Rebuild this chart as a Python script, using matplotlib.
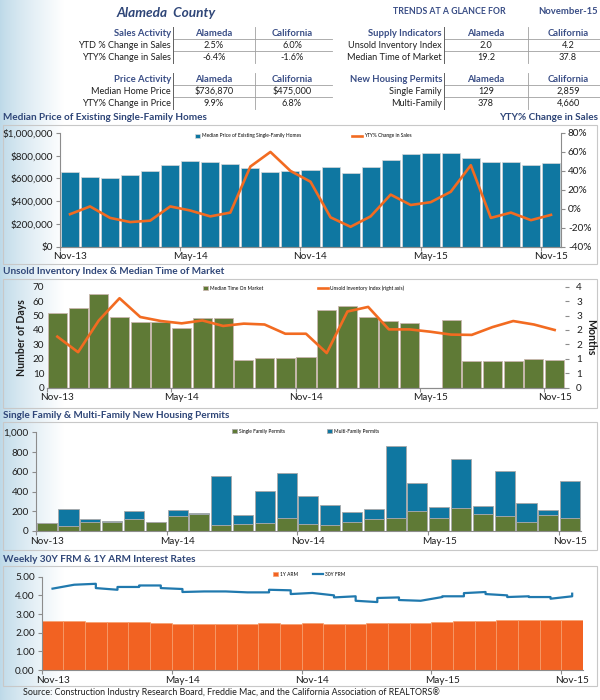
import numpy as np
import matplotlib
matplotlib.use("Agg")
import matplotlib.pyplot as plt
from matplotlib.patches import Rectangle
from matplotlib.ticker import FuncFormatter, MultipleLocator

plt.rcParams['font.family'] = ['Lato', 'DejaVu Sans']

# ---------------- data ----------------
tick_labels = ["Nov-13", "May-14", "Nov-14", "May-15", "Nov-15"]

median_price = [657000, 609000, 600000, 630000, 663000, 722000, 752000, 746000, 725000,
                696000, 654000, 663000, 675000, 698000, 645000, 701000, 761000, 815000,
                821000, 821000, 776000, 746000, 743000, 716000, 736870]
yty_sales = [-5.7, 2.5, -9.6, -14.0, -12.5, 2.5, -1.8, -8.0, -4.0, 44.6, 60.0, 40.0,
             28.6, -9.0, -19.0, -8.0, 15.0, 4.0, 7.0, 18.0, 46.0, -9.6, -4.0, -12.0, -6.4]

days_on_market = [51.5, 55.0, 64.7, 48.7, 45.7, 45.7, 41.1, 48.0, 48.5, 19.2, 20.3, 20.8,
                  21.2, 54.0, 56.4, 49.0, 46.0, 44.6, np.nan, 46.6, 18.2, 18.2, 18.5, 19.9, 19.2]
unsold_index = [1.77, 1.23, 2.33, 3.10, 2.45, 2.31, 2.23, 2.33, 2.14, 2.22, 2.19, 1.87,
                1.87, 1.20, 2.64, 2.80, 2.02, 2.02, 1.94, 1.84, 1.83, 2.10, 2.31, 2.19, 2.00]

single_family = [78, 51, 91, 91, 122, 88, 155, 172, 61, 68, 78, 128,
                 71, 61, 88, 122, 128, 206, 128, 230, 172, 155, 95, 159, 129]
multi_family = [0, 175, 34, 10, 77, 0, 54, 7, 500, 94, 324, 456,
                284, 203, 101, 104, 737, 277, 112, 496, 81, 450, 185, 57, 378]

arm_1y = [2.64, 2.63, 2.59, 2.59, 2.55, 2.50, 2.48, 2.45, 2.45, 2.45, 2.50, 2.46,
          2.50, 2.45, 2.45, 2.50, 2.52, 2.54, 2.55, 2.63, 2.61, 2.66, 2.68, 2.66, 2.70]
frm_30y = [[4.36], [4.57], [4.62, 4.39], [4.30, 4.45], [4.45, 4.53], [4.53, 4.39],
           [4.34, 4.18], [4.21], [4.21], [4.16], [4.16, 4.30], [4.27, 4.07],
           [4.13], [4.00, 3.89], [3.95, 3.71], [3.64, 3.86], [3.89, 3.75], [3.71],
           [3.91, 3.95], [3.95, 4.12], [4.18, 4.07], [4.00, 3.91], [3.95, 3.91],
           [3.91, 3.82], [3.95, 4.09]]

sales_rows = ["YTD % Change in Sales", "YTY% Change in Sales"]
sales_alameda = ["2.5%", "-6.4%"]
sales_california = ["6.0%", "-1.6%"]
price_rows = ["Median Home Price", "YTY% Change in Price"]
price_alameda = ["$736,870", "9.9%"]
price_california = ["$475,000", "6.8%"]
supply_rows = ["Unsold Inventory Index", "Median Time of Market"]
supply_alameda = ["2.0", "19.2"]
supply_california = ["4.2", "37.8"]
permit_rows = ["Single Family", "Multi-Family"]
permit_alameda = ["129", "378"]
permit_california = ["2,859", "4,660"]

# ---------------- style ----------------
W, H = 600, 700
C_BLUE = '#0F77A1'
C_GREEN = '#5F7A36'
C_ORANGE = '#F26B21'
C_ARM = '#F26222'
C_FRM = '#2079AE'
C_TITLE = '#2F4678'
C_HEAD = '#3A4E86'
C_SPINE = '#8C8C8C'
C_TXT = '#1E1E1E'

fig = plt.figure(figsize=(6, 7), dpi=100)


def rect(l, r, t, b):
    return [l / W, 1 - b / H, (r - l) / W, (b - t) / H]


# background axes in pixel coordinates
bg = fig.add_axes([0, 0, 1, 1], zorder=-10)
bg.set_xlim(0, W)
bg.set_ylim(H, 0)
bg.axis('off')
grad = np.linspace(0, 1, 200) ** 0.8
c0 = np.array([0.74, 0.85, 0.91])
c1 = np.array([1.0, 1.0, 1.0])
img = (c0[None, :] * (1 - grad[:, None]) + c1[None, :] * grad[:, None])[None, :, :]
bg.imshow(img, extent=[0, 64, H, 0], aspect='auto', zorder=0)

# header
bg.text(166, 13, "Alameda  County", ha='center', va='center', fontsize=9.8,
        fontweight='bold', fontstyle='italic', color=C_TITLE)
bg.text(393, 12, "TRENDS AT A GLANCE FOR", ha='left', va='center', fontsize=6.3,
        fontweight='bold', color=C_HEAD)
bg.text(598, 12, "November-15", ha='right', va='center', fontsize=6.8,
        fontweight='bold', color=C_HEAD)


def table(y0, head, rows, alam, cal, xlab, xa, xc, xsep1, xsep2, xend):
    ys = [y0, y0 + 12, y0 + 24]
    bg.text(xlab, ys[0], head, ha='right', va='center', fontsize=6.8, fontweight='bold', color=C_HEAD)
    bg.text(xa, ys[0], "Alameda", ha='center', va='center', fontsize=6.8, fontweight='bold', color=C_HEAD)
    bg.text(xc, ys[0], "California", ha='center', va='center', fontsize=6.8, fontweight='bold', color=C_HEAD)
    for i in range(2):
        bg.text(xlab, ys[i + 1], rows[i], ha='right', va='center', fontsize=6.6, color=C_TXT)
        bg.text(xa, ys[i + 1], alam[i], ha='center', va='center', fontsize=6.6, color=C_TXT)
        bg.text(xc, ys[i + 1], cal[i], ha='center', va='center', fontsize=6.6, color=C_TXT)
    for yy in (ys[0] + 6, ys[1] + 6):
        bg.plot([xsep1, xend], [yy, yy], color='#A0A0A0', lw=0.6)
    bg.plot([xsep1, xsep1], [ys[0] - 6, ys[2] + 6], color='#606060', lw=0.7)
    bg.plot([xsep2, xsep2], [ys[0] - 6, ys[2] + 6], color='#A0A0A0', lw=0.6)


table(33, "Sales Activity", sales_rows, sales_alameda, sales_california, 171, 214, 292, 173, 255, 332)
table(79, "Price Activity", price_rows, price_alameda, price_california, 171, 214, 292, 173, 255, 332)
table(33, "Supply Indicators", supply_rows, supply_alameda, supply_california, 442, 486, 568, 444, 528, 600)
table(79, "New Housing Permits", permit_rows, permit_alameda, permit_california, 442, 486, 568, 444, 528, 600)

# chart boxes and titles
for (t, b) in [(125, 264), (279, 408), (422, 550), (566, 686)]:
    bg.add_patch(Rectangle((3, t), 594, b - t, fill=False, edgecolor='#C8C8C8', lw=0.8))
bg.text(3, 118, "Median Price of Existing Single-Family Homes", ha='left', va='center',
        fontsize=7.2, fontweight='bold', color=C_TITLE)
bg.text(598, 118, "YTY% Change in Sales", ha='right', va='center',
        fontsize=7.2, fontweight='bold', color=C_TITLE)
bg.text(3, 271, "Unsold Inventory Index & Median Time of Market", ha='left', va='center',
        fontsize=7.2, fontweight='bold', color=C_TITLE)
bg.text(3, 416, "Single Family & Multi-Family New Housing Permits", ha='left', va='center',
        fontsize=7.2, fontweight='bold', color=C_TITLE)
bg.text(3, 560, "Weekly 30Y FRM & 1Y ARM Interest Rates", ha='left', va='center',
        fontsize=7.2, fontweight='bold', color=C_TITLE)
bg.text(23, 692, "Source: Construction Industry Research Board, Freddie Mac, and the California Association of REALTORS\u00ae",
        ha='left', va='center', fontsize=6.4, color=C_TXT)

n = len(median_price)
x = np.arange(n)
label_pos = [0, 6, 12, 18, 24]
tick_pos = [-0.5, 5.5, 11.5, 17.5, 23.5]


def style_axis(ax, left=True, right=False):
    ax.spines['top'].set_visible(False)
    ax.spines['right'].set_visible(right)
    ax.spines['left'].set_visible(left)
    for s in ['left', 'right', 'bottom']:
        ax.spines[s].set_color(C_SPINE)
        ax.spines[s].set_linewidth(0.8)
    ax.set_xlim(-0.5, n - 0.5)
    ax.set_xticks(tick_pos)
    ax.set_xticklabels([])
    ax.set_xticks(label_pos, minor=True)
    ax.set_xticklabels(tick_labels, minor=True)
    ax.tick_params(axis='x', which='major', length=3, color=C_SPINE, width=0.8)
    ax.tick_params(axis='x', which='minor', length=0, pad=4, labelsize=7.2, labelcolor=C_TXT)
    ax.tick_params(axis='y', length=3, color=C_SPINE, width=0.8, labelsize=7.2, labelcolor=C_TXT, pad=2)
    ax.patch.set_alpha(0)


def fig_anchor(px, py):
    return (px / W, 1 - py / H)


# ---------------- chart 1 ----------------
ax1 = fig.add_axes(rect(60, 561, 133, 246.7))
b1 = ax1.bar(x, median_price, width=0.9, color=C_BLUE, edgecolor='#D8D8D8', lw=0.5)
ax1.set_ylim(0, 1000000)
ax1.yaxis.set_major_locator(MultipleLocator(200000))
ax1.yaxis.set_major_formatter(FuncFormatter(lambda v, p: "${:,.0f}".format(v)))
style_axis(ax1, left=True, right=False)
ax1b = ax1.twinx()
l1, = ax1b.plot(x, yty_sales, color=C_ORANGE, lw=1.9)
ax1b.set_ylim(-40, 80)
ax1b.yaxis.set_major_locator(MultipleLocator(20))
ax1b.yaxis.set_major_formatter(FuncFormatter(lambda v, p: "{:.0f}%".format(v)))
style_axis(ax1b, left=False, right=True)
ax1b.tick_params(axis='x', which='minor', labelbottom=False)
ax1.legend([b1], ["Median Price of Existing Single-Family Homes"], loc='center left',
           bbox_to_anchor=fig_anchor(193, 136), bbox_transform=fig.transFigure, fontsize=3.5,
           frameon=False, handlelength=1.0, handleheight=0.9, borderpad=0, handletextpad=0.3)
ax1b.legend([l1], ["YTY% Change in Sales"], loc='center left',
            bbox_to_anchor=fig_anchor(350, 136), bbox_transform=fig.transFigure, fontsize=3.5,
            frameon=False, handlelength=2.0, borderpad=0, handletextpad=0.3)

# ---------------- chart 2 ----------------
ax2 = fig.add_axes(rect(47, 565, 286.7, 387.7))
b2 = ax2.bar(x, days_on_market, width=0.92, color=C_GREEN, edgecolor='#C9B7AE', lw=0.6)
ax2.set_ylim(0, 70)
ax2.yaxis.set_major_locator(MultipleLocator(10))
style_axis(ax2, left=False, right=False)
ax2.tick_params(axis='y', length=0)
ax2.set_ylabel("Number of Days", fontsize=7.6, fontweight='bold', color=C_TXT, labelpad=4)
ax2b = ax2.twinx()
l2, = ax2b.plot(x, unsold_index, color=C_ORANGE, lw=1.9)
ax2b.set_ylim(0, 3.5)
ax2b.yaxis.set_major_locator(MultipleLocator(0.5))
ax2b.yaxis.set_major_formatter(FuncFormatter(lambda v, p: "{:d}".format(int(np.floor(v + 0.5)))))
style_axis(ax2b, left=False, right=False)
ax2b.tick_params(axis='x', which='minor', labelbottom=False)
ax2b.tick_params(axis='y', length=3, pad=5)
ax2b.set_ylabel("Months", fontsize=7.6, fontweight='bold', color=C_TXT, rotation=270, labelpad=10)
ax2.legend([b2], ["Median Time On Market"], loc='center left',
           bbox_to_anchor=fig_anchor(201, 288), bbox_transform=fig.transFigure, fontsize=3.5,
           frameon=False, handlelength=1.0, handleheight=0.9, borderpad=0, handletextpad=0.3)
ax2b.legend([l2], ["Unsold Inventory Index (right axis)"], loc='center left',
            bbox_to_anchor=fig_anchor(316, 288), bbox_transform=fig.transFigure, fontsize=3.5,
            frameon=False, handlelength=2.0, borderpad=0, handletextpad=0.3)

# ---------------- chart 3 ----------------
ax3 = fig.add_axes(rect(35.8, 581, 432.3, 531))
b3a = ax3.bar(x, single_family, width=0.92, color=C_GREEN, edgecolor='#A8A8A8', lw=0.6)
b3b = ax3.bar(x, multi_family, bottom=single_family, width=0.92, color=C_BLUE,
              edgecolor='#A8A8A8', lw=0.6)
ax3.set_ylim(0, 1000)
ax3.yaxis.set_major_locator(MultipleLocator(200))
ax3.yaxis.set_major_formatter(FuncFormatter(lambda v, p: "{:,.0f}".format(v)))
style_axis(ax3, left=True, right=False)
ax3.legend([b3a], ["Single Family Permits"], loc='center left',
           bbox_to_anchor=fig_anchor(230, 431), bbox_transform=fig.transFigure, fontsize=3.5,
           frameon=False, handlelength=1.0, handleheight=0.9, borderpad=0, handletextpad=0.3)
fig.legend([b3b], ["Multi-Family Permits"], loc='center left',
           bbox_to_anchor=fig_anchor(325, 431), bbox_transform=fig.transFigure, fontsize=3.5,
           frameon=False, handlelength=1.0, handleheight=0.9, borderpad=0, handletextpad=0.3)

# ---------------- chart 4 ----------------
ax4 = fig.add_axes(rect(41.7, 583, 576.7, 670))
b4 = ax4.bar(x, arm_1y, width=1.0, color=C_ARM, edgecolor='#F6A06E', lw=0.5)
fx, fy = [], []
for i, wk in enumerate(frm_30y):
    for v in wk:
        fx.append(i)
        fy.append(v)
l4, = ax4.plot(fx, fy, color=C_FRM, lw=1.6)
ax4.set_ylim(0, 5)
ax4.yaxis.set_major_locator(MultipleLocator(1))
ax4.yaxis.set_major_formatter(FuncFormatter(lambda v, p: "{:.2f}".format(v)))
style_axis(ax4, left=True, right=False)
ax4.legend([b4], ["1Y ARM"], loc='center left',
           bbox_to_anchor=fig_anchor(271, 574), bbox_transform=fig.transFigure, fontsize=3.5,
           frameon=False, handlelength=1.0, handleheight=0.9, borderpad=0, handletextpad=0.3)
fig.legend([l4], ["30Y FRM"], loc='center left',
           bbox_to_anchor=fig_anchor(311, 574), bbox_transform=fig.transFigure, fontsize=3.5,
           frameon=False, handlelength=2.0, borderpad=0, handletextpad=0.3)

fig.savefig("out.png", dpi=100)
